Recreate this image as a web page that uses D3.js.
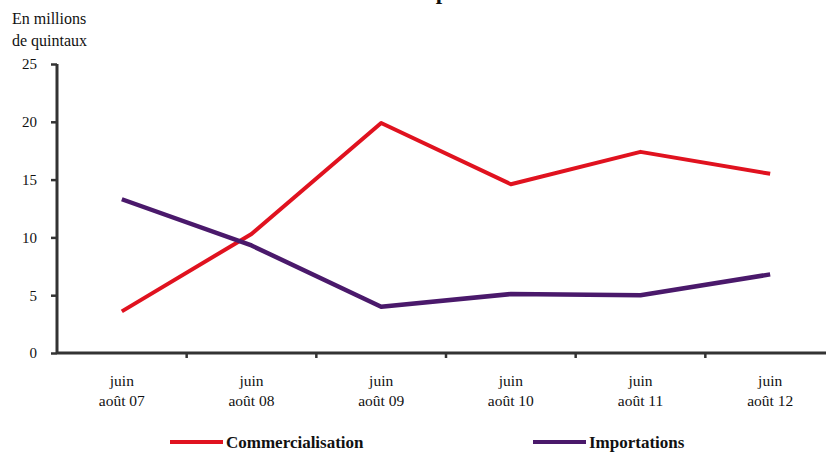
<html>
<head>
<meta charset="utf-8">
<title>Commercialisation et importations de céréales</title>
<script src="https://cdn.jsdelivr.net/npm/d3@7"></script>
<style>
  body { margin: 0; background: #fff; }
  svg { display: block; }
  svg text { font-family: "Liberation Serif", "DejaVu Serif", serif; fill: #111; }
</style>
</head>
<body>
<div id="chart"></div>
<script>
// données (millions de quintaux)
var periodes = ["07", "08", "09", "10", "11", "12"];
var commercialisation = [3.6, 10.3, 19.9, 14.6, 17.4, 15.5];
var importations = [13.3, 9.3, 4.0, 5.1, 5.0, 6.8];
var yTicks = [0, 5, 10, 15, 20, 25];
var series = [
  { name: "Commercialisation", values: commercialisation, color: "#e0121f", w: 4 },
  { name: "Importations", values: importations, color: "#4a196b", w: 4.5 }
];

var width = 826, height = 452;
var svg = d3.select("#chart").append("svg")
    .attr("width", width).attr("height", height);

var x = d3.scaleBand().domain(periodes).range([57, 835]);
var y = d3.scaleLinear().domain([0, 25]).range([353, 64]);
var axisColor = "#333";

// titre (coupé en haut comme sur l'original)
svg.append("text")
  .attr("x", 422).attr("y", -1)
  .attr("text-anchor", "middle")
  .style("font-size", "23px").style("font-weight", "bold")
  .text("Commercialisation et importations de céréales");

svg.append("text").attr("x", 12).attr("y", 24).style("font-size", "16px").text("En millions");
svg.append("text").attr("x", 12).attr("y", 46).style("font-size", "16px").text("de quintaux");

// axe Y
var yAxis = svg.append("g").attr("transform", "translate(57,0)")
  .call(d3.axisLeft(y).tickValues(yTicks).tickSize(6).tickPadding(14));
yAxis.select(".domain").attr("stroke", axisColor).attr("stroke-width", 3)
  .attr("d", "M0," + y(25) + "V" + y(0));
yAxis.selectAll(".tick line").attr("stroke", axisColor).attr("stroke-width", 2.5);
yAxis.selectAll(".tick text").style("font-size", "15px")
  .style("font-family", "Liberation Serif, DejaVu Serif, serif").attr("fill", "#111");

// axe X
var xAxis = svg.append("g").attr("transform", "translate(0," + y(0) + ")")
  .call(d3.axisBottom(x).tickSize(0).tickFormat(""));
xAxis.select(".domain").attr("stroke", axisColor).attr("stroke-width", 3)
  .attr("d", "M57,0H835");
xAxis.selectAll(".tick").remove();
xAxis.selectAll("line.sep").data(periodes)
  .enter().append("line").attr("class", "sep")
  .attr("x1", function(d) { return x(d) + x.bandwidth(); })
  .attr("x2", function(d) { return x(d) + x.bandwidth(); })
  .attr("y1", 0).attr("y2", 5)
  .attr("stroke", axisColor).attr("stroke-width", 2.5);

var lab = svg.append("g").selectAll("text").data(periodes).enter().append("text")
  .attr("text-anchor", "middle").style("font-size", "15.5px")
  .attr("transform", function(d) { return "translate(" + (x(d) + x.bandwidth() / 2) + ",0)"; });
lab.append("tspan").attr("x", 0).attr("y", 386).text("juin");
lab.append("tspan").attr("x", 0).attr("y", 406).text(function(d) { return "août " + d; });

// courbes
var line = d3.line()
  .x(function(d, i) { return x(periodes[i]) + x.bandwidth() / 2; })
  .y(function(d) { return y(d); });

svg.selectAll("path.serie").data(series).enter().append("path")
  .attr("class", "serie")
  .attr("d", function(s) { return line(s.values); })
  .attr("fill", "none")
  .attr("stroke", function(s) { return s.color; })
  .attr("stroke-width", function(s) { return s.w; })
  .attr("stroke-linejoin", "round");

// légende
var legX = [170, 533];
var leg = svg.selectAll("g.leg").data(series).enter().append("g")
  .attr("class", "leg")
  .attr("transform", function(s, i) { return "translate(" + legX[i] + ",442)"; });
leg.append("line").attr("x1", 0).attr("x2", 53).attr("y1", 0).attr("y2", 0)
  .attr("stroke", function(s) { return s.color; }).attr("stroke-width", 4);
leg.append("text").attr("x", 56).attr("y", 6)
  .style("font-size", "17px").style("font-weight", "bold")
  .text(function(s) { return s.name; });
</script>
</body>
</html>
